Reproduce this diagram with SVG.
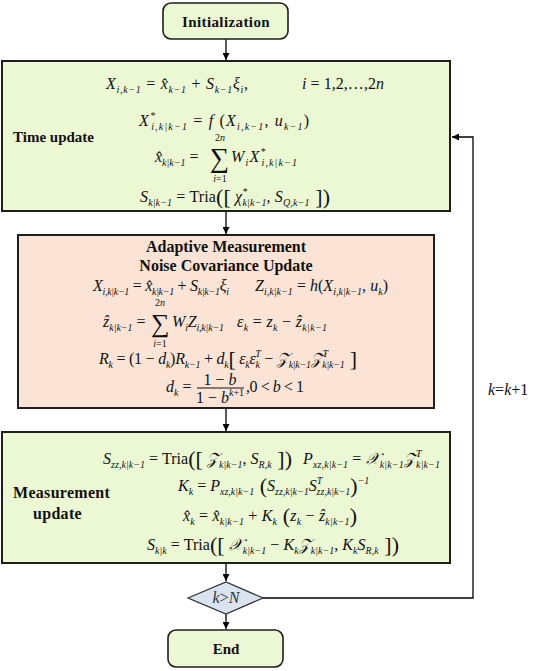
<svg xmlns="http://www.w3.org/2000/svg" width="550" height="671" viewBox="0 0 550 671">
<style>
.bx{stroke:#1e1e1e;stroke-width:2}
.g{fill:#ecf8d4}
.o{fill:#fbe4d5}
.d{fill:#dae3f0;stroke:#333;stroke-width:1.3}
.t{font-family:"Liberation Serif","Times New Roman",serif;font-weight:bold;font-size:15px;fill:#111}
.m{font-family:"Liberation Serif","Times New Roman","DejaVu Serif","DejaVu Sans",serif;font-size:16px;fill:#111}
.i{font-style:italic}
.s{font-size:10px;font-style:italic}
.n{font-style:normal}
.big{font-size:22px}
.sum{font-size:27px}
.c{stroke:#000;stroke-width:1.3;fill:none}
</style>
<defs>
<marker id="ah" viewBox="0 0 10 10" refX="10" refY="5" markerWidth="8" markerHeight="7" orient="auto" markerUnits="userSpaceOnUse"><path d="M0,0 L10,5 L0,10 z" fill="#000"/></marker>
</defs>
<g id="connectors">
<line class="c" x1="226" y1="39" x2="226" y2="60" marker-end="url(#ah)"/>
<line class="c" x1="226" y1="212" x2="226" y2="234" marker-end="url(#ah)"/>
<line class="c" x1="226" y1="409" x2="226" y2="431" marker-end="url(#ah)"/>
<line class="c" x1="226" y1="564" x2="226" y2="581" marker-end="url(#ah)"/>
<line class="c" x1="226" y1="614" x2="226" y2="629" marker-end="url(#ah)"/>
<polyline class="c" points="263,598 473,598 473,137 452,137" marker-end="url(#ah)"/>
<text class="m" x="488" y="395"><tspan class="i">k</tspan>=<tspan class="i">k</tspan>+1</text>
</g>
<g id="init">
<rect class="bx g" x="163" y="3" width="125" height="36" rx="8" style="stroke-width:1.6"/>
<text class="t" x="226" y="27" text-anchor="middle" style="letter-spacing:0.4px">Initialization</text>
</g>
<g id="time-update">
<rect class="bx g" x="2" y="61" width="448" height="150"/>
<text class="t" x="13" y="142">Time update</text>
<text class="m" x="106" y="89" textLength="142" lengthAdjust="spacing"><tspan class="i">X</tspan><tspan class="s" dy="4">i,k−1</tspan><tspan dy="-4"> = </tspan><tspan class="i">x̂</tspan><tspan class="s" dy="4">k−1</tspan><tspan dy="-4"> + </tspan><tspan class="i">S</tspan><tspan class="s" dy="4">k−1</tspan><tspan class="i" dy="-4">ξ</tspan><tspan class="s" dy="4">i</tspan><tspan dy="-4">,</tspan></text>
<text class="m" x="302" y="89" textLength="82" lengthAdjust="spacing"><tspan class="i">i</tspan> = 1,2,…,2<tspan class="i">n</tspan></text>
<text class="m" x="139" y="126" textLength="170" lengthAdjust="spacing"><tspan class="i">X</tspan><tspan class="s" dy="-7">*</tspan><tspan class="s" dx="-5" dy="11">i,k|k−1</tspan><tspan dy="-4"> = </tspan><tspan class="i">f</tspan> (<tspan class="i">X</tspan><tspan class="s" dy="4">i,k−1</tspan><tspan dy="-4">, </tspan><tspan class="i">u</tspan><tspan class="s" dy="4">k−1</tspan><tspan dy="-4">)</tspan></text>
<text class="m" x="155" y="162"><tspan class="i">x̂</tspan><tspan class="s" dy="4">k|k−1</tspan><tspan dy="-4"> =</tspan></text>
<text class="m sum" x="210" y="167">∑</text>
<text class="m s" x="220" y="141" text-anchor="middle"><tspan class="n">2</tspan>n</text>
<text class="m s" x="220" y="182" text-anchor="middle">i<tspan class="n">=1</tspan></text>
<text class="m" x="231" y="162" textLength="66" lengthAdjust="spacing"><tspan class="i">W</tspan><tspan class="s" dy="4">i</tspan><tspan class="i" dy="-4">X</tspan><tspan class="s" dy="-7">*</tspan><tspan class="s" dx="-5" dy="11">i,k|k−1</tspan></text>
<text class="m" x="140" y="202" textLength="190" lengthAdjust="spacing"><tspan class="i">S</tspan><tspan class="s" dy="4">k|k−1</tspan><tspan dy="-4"> = Tria</tspan><tspan class="big" dy="2">(</tspan><tspan class="big">[</tspan><tspan class="i" dy="-2"> χ</tspan><tspan class="s" dy="-7">*</tspan><tspan class="s" dx="-5" dy="11">k|k−1</tspan><tspan dy="-4">, </tspan><tspan class="i">S</tspan><tspan class="s" dy="4">Q,k−1</tspan><tspan class="big" dy="-2"> ]</tspan><tspan class="big">)</tspan></text>
</g>
<g id="adaptive">
<rect class="bx o" x="18" y="235" width="416" height="173"/>
<text class="t" x="226" y="252" text-anchor="middle" style="font-size:16px">Adaptive Measurement</text>
<text class="t" x="226" y="271" text-anchor="middle" style="font-size:16px">Noise Covariance Update</text>
<text class="m" x="93" y="291" textLength="136" lengthAdjust="spacing"><tspan class="i">X</tspan><tspan class="s" dy="4">i,k|k−1</tspan><tspan dy="-4"> = </tspan><tspan class="i">x̂</tspan><tspan class="s" dy="4">k|k−1</tspan><tspan dy="-4"> + </tspan><tspan class="i">S</tspan><tspan class="s" dy="4">k|k−1</tspan><tspan class="i" dy="-4">ξ</tspan><tspan class="s" dy="4">i</tspan></text>
<text class="m" x="255" y="291" textLength="133" lengthAdjust="spacing"><tspan class="i">Z</tspan><tspan class="s" dy="4">i,k|k−1</tspan><tspan dy="-4"> = </tspan><tspan class="i">h</tspan>(<tspan class="i">X</tspan><tspan class="s" dy="4">i,k|k−1</tspan><tspan dy="-4">, </tspan><tspan class="i">u</tspan><tspan class="s" dy="4">k</tspan><tspan dy="-4">)</tspan></text>
<text class="m" x="103" y="327"><tspan class="i">ẑ</tspan><tspan class="s" dy="4">k|k−1</tspan><tspan dy="-4"> =</tspan></text>
<text class="m" x="151" y="332" style="font-size:26px">∑</text>
<text class="m s" x="160" y="306" text-anchor="middle"><tspan class="n">2</tspan>n</text>
<text class="m s" x="160" y="347" text-anchor="middle">i<tspan class="n">=1</tspan></text>
<text class="m" x="172" y="327" textLength="52" lengthAdjust="spacing"><tspan class="i">W</tspan><tspan class="s" dy="4">i</tspan><tspan class="i" dy="-4">Z</tspan><tspan class="s" dy="4">i,k|k−1</tspan></text>
<text class="m" x="237" y="327" textLength="90" lengthAdjust="spacing"><tspan class="i">ε</tspan><tspan class="s" dy="4">k</tspan><tspan dy="-4"> = </tspan><tspan class="i">z</tspan><tspan class="s" dy="4">k</tspan><tspan dy="-4"> − </tspan><tspan class="i">ẑ</tspan><tspan class="s" dy="4">k|k−1</tspan></text>
<text class="m" x="99" y="364" textLength="258" lengthAdjust="spacing"><tspan class="i">R</tspan><tspan class="s" dy="4">k</tspan><tspan dy="-4"> = (1 − </tspan><tspan class="i">d</tspan><tspan class="s" dy="4">k</tspan><tspan dy="-4">)</tspan><tspan class="i">R</tspan><tspan class="s" dy="4">k−1</tspan><tspan dy="-4"> + </tspan><tspan class="i">d</tspan><tspan class="s" dy="4">k</tspan><tspan class="big" dy="-2">[</tspan><tspan class="i" dy="-2"> ε</tspan><tspan class="s" dy="4">k</tspan><tspan class="i" dy="-4">ε</tspan><tspan class="s" dy="4">k</tspan><tspan class="s" dx="-4.5" dy="-11">T</tspan><tspan dy="7"> − </tspan><tspan class="i">𝒵</tspan><tspan class="s" dy="4">k|k−1</tspan><tspan class="i" dy="-4">𝒵</tspan><tspan class="s" dy="-7">T</tspan><tspan class="s" dx="-5.6" dy="11">k|k−1</tspan><tspan class="big" dy="-2"> ]</tspan></text>
<text class="m" x="166" y="392"><tspan class="i">d</tspan><tspan class="s" dy="4">k</tspan><tspan dy="-4"> =</tspan></text>
<text class="m" x="220" y="385" text-anchor="middle">1 − <tspan class="i">b</tspan></text>
<line x1="197" y1="388" x2="244" y2="388" stroke="#111" stroke-width="1"/>
<text class="m" x="220" y="403" text-anchor="middle">1 − <tspan class="i">b</tspan><tspan class="s" dy="-7">k<tspan class="n">+1</tspan></tspan></text>
<text class="m" x="246" y="392" textLength="58" lengthAdjust="spacing">,0 &lt; <tspan class="i">b</tspan> &lt; 1</text>
</g>
<g id="measurement">
<rect class="bx g" x="2" y="432" width="448" height="131"/>
<text class="t" x="13" y="498" style="font-size:16px;letter-spacing:0.3px">Measurement</text>
<text class="t" x="33" y="519" style="font-size:16px;letter-spacing:0.3px">update</text>
<text class="m" x="103" y="464" textLength="189" lengthAdjust="spacing"><tspan class="i">S</tspan><tspan class="s" dy="4">zz,k|k−1</tspan><tspan dy="-4"> = Tria</tspan><tspan class="big" dy="2">(</tspan><tspan class="big">[</tspan><tspan class="i" dy="-2"> 𝒵</tspan><tspan class="s" dy="4">k|k−1</tspan><tspan dy="-4">, </tspan><tspan class="i">S</tspan><tspan class="s" dy="4">R,k</tspan><tspan class="big" dy="-2"> ]</tspan><tspan class="big">)</tspan></text>
<text class="m" x="303" y="464" textLength="137" lengthAdjust="spacing"><tspan class="i">P</tspan><tspan class="s" dy="4">xz,k|k−1</tspan><tspan dy="-4"> = </tspan><tspan class="i">𝒳</tspan><tspan class="s" dy="4">k|k−1</tspan><tspan class="i" dy="-4">𝒵</tspan><tspan class="s" dy="-7">T</tspan><tspan class="s" dx="-5.6" dy="11">k|k−1</tspan></text>
<text class="m" x="178" y="491"><tspan class="i">K</tspan><tspan class="s" dy="4">k</tspan><tspan dy="-4"> = </tspan><tspan class="i">P</tspan><tspan class="s" dy="4">xz,k|k−1</tspan><tspan class="big" dy="-2"> (</tspan><tspan class="i" dy="-2">S</tspan><tspan class="s" dy="4">zz,k|k−1</tspan><tspan class="i" dy="-4">S</tspan><tspan class="s" dy="-7">T</tspan><tspan class="s" dx="-5.6" dy="11">zz,k|k−1</tspan><tspan class="big" dy="-2">)</tspan><tspan class="s" dy="-9">−1</tspan></text>
<text class="m" x="183" y="521" textLength="174" lengthAdjust="spacing"><tspan class="i">x̂</tspan><tspan class="s" dy="4">k</tspan><tspan dy="-4"> = </tspan><tspan class="i">x̂</tspan><tspan class="s" dy="4">k|k−1</tspan><tspan dy="-4"> + </tspan><tspan class="i">K</tspan><tspan class="s" dy="4">k</tspan><tspan class="big" dy="-2"> (</tspan><tspan class="i" dy="-2">z</tspan><tspan class="s" dy="4">k</tspan><tspan dy="-4"> − </tspan><tspan class="i">ẑ</tspan><tspan class="s" dy="4">k|k−1</tspan><tspan class="big" dy="-2">)</tspan></text>
<text class="m" x="147" y="550" textLength="252" lengthAdjust="spacing"><tspan class="i">S</tspan><tspan class="s" dy="4">k|k</tspan><tspan dy="-4"> = Tria</tspan><tspan class="big" dy="2">(</tspan><tspan class="big">[</tspan><tspan class="i" dy="-2"> 𝒳</tspan><tspan class="s" dy="4">k|k−1</tspan><tspan dy="-4"> − </tspan><tspan class="i">K</tspan><tspan class="s" dy="4">k</tspan><tspan class="i" dy="-4">𝒵</tspan><tspan class="s" dy="4">k|k−1</tspan><tspan dy="-4">, </tspan><tspan class="i">K</tspan><tspan class="s" dy="4">k</tspan><tspan class="i" dy="-4">S</tspan><tspan class="s" dy="4">R,k</tspan><tspan class="big" dy="-2"> ]</tspan><tspan class="big">)</tspan></text>
</g>
<g id="decision">
<polygon class="d" points="188,598 226,582 263,598 226,614"/>
<text class="m" x="226" y="603" text-anchor="middle" style="font-size:16px;fill:#333"><tspan class="i">k</tspan>&gt;<tspan class="i">N</tspan></text>
</g>
<g id="end">
<rect class="bx g" x="168" y="630" width="115" height="37" rx="8" style="stroke-width:1.6"/>
<text class="t" x="226" y="654" text-anchor="middle">End</text>
</g>
</svg>
